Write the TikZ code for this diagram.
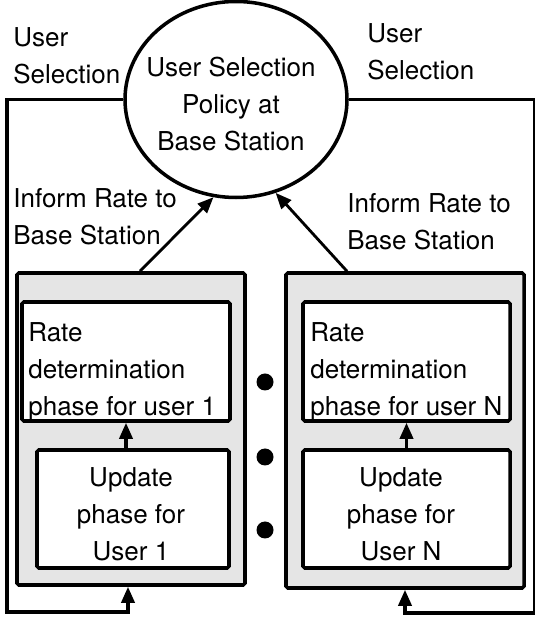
\documentclass[tikz,border=0pt]{standalone}
\usepackage{fontspec}
\setmainfont{TeX Gyre Heros}
\usepackage{tikz}
\usetikzlibrary{shapes.geometric, arrows.meta, positioning, calc}

\begin{document}
\begin{tikzpicture}[
    policybox/.style={ellipse, draw, line width=2pt, minimum width=4.44cm, minimum height=3.92cm, inner sep=0pt},
    userbox/.style={rectangle, draw, line width=2pt, fill=gray!20, rounded corners=1pt, inner sep=0pt},
    phasebox/.style={rectangle, draw, line width=2pt, fill=white, rounded corners=1pt, inner sep=0pt},
    lbl/.style={font=\fontsize{14.8}{21}\selectfont, inner sep=0pt, align=left},
    clbl/.style={font=\fontsize{14.8}{21}\selectfont, inner sep=0pt, align=center},
    arr/.style={-{Triangle[length=0.32cm, width=0.26cm]}, line width=2pt},
    informarr/.style={-{Triangle[length=0.32cm, width=0.26cm]}, line width=1.6pt},
    fbline/.style={-{Triangle[length=0.32cm, width=0.26cm]}, line width=2pt}
]
\useasboundingbox (0,0) rectangle (10.68,12.36);

% Base station policy
\node[policybox] (policy) at (4.72,10.37) {};
\node[clbl, anchor=north] (policytxt) at (4.62,11.22) {User Selection\\Policy at\\Base Station};

% User 1 column
\node[userbox, minimum width=4.56cm, minimum height=6.24cm] (user1) at (2.62,3.78) {};
\node[phasebox, minimum width=4.16cm, minimum height=2.38cm] (rate1) at (2.52,5.13) {};
\node[phasebox, minimum width=3.84cm, minimum height=2.36cm] (upd1) at (2.66,2.18) {};
\node[lbl, anchor=north west] (rate1txt) at (0.56,5.92) {Rate\\determination\\phase for user 1};
\node[clbl, anchor=north] (upd1txt) at (2.62,3.02) {Update\\phase for\\User 1};

% User N column
\node[userbox, minimum width=4.76cm, minimum height=6.30cm] (userN) at (8.10,3.75) {};
\node[phasebox, minimum width=4.14cm, minimum height=2.38cm] (rateN) at (8.13,5.13) {};
\node[phasebox, minimum width=4.14cm, minimum height=2.36cm] (updN) at (8.13,2.18) {};
\node[lbl, anchor=north west] (rateNtxt) at (6.20,5.92) {Rate\\determination\\phase for user N};
\node[clbl, anchor=north] (updNtxt) at (8.02,3.02) {Update\\phase for\\User N};

% Dots between the columns
\foreach \y [count=\i] in {4.72,3.22,1.76}
    \node[circle, fill=black, minimum size=0.34cm, inner sep=0pt] (dot\i) at (5.30,\y) {};

% Phase arrows
\draw[arr] (upd1.north -| rate1.south) -- (rate1.south);
\draw[arr] (updN.north -| rateN.south) -- (rateN.south);

% Inform rate arrows
\draw[informarr] ([xshift=0.18cm]user1.north) -- (policy.-103);
\draw[informarr] ([xshift=-1.16cm]userN.north) -- (policy.-67);
\node[lbl, anchor=north west] (inform1) at (0.26,8.60) {Inform Rate to\\Base Station};
\node[lbl, anchor=north west] (informN) at (6.94,8.50) {Inform Rate to\\Base Station};

% User selection feedback
\coordinate (lcorner) at (0.14,0.12);
\coordinate (rcorner) at (10.70,0.10);
\draw[fbline] (policy.west) -| (lcorner) -| ([xshift=-0.06cm]user1.south);
\draw[fbline] (policy.east) -| (rcorner) -| (userN.south);
\node[lbl, anchor=north west] (sel1) at (0.26,11.82) {User\\Selection};
\node[lbl, anchor=north west] (selN) at (7.34,11.90) {User\\Selection};

\end{tikzpicture}
\end{document}
